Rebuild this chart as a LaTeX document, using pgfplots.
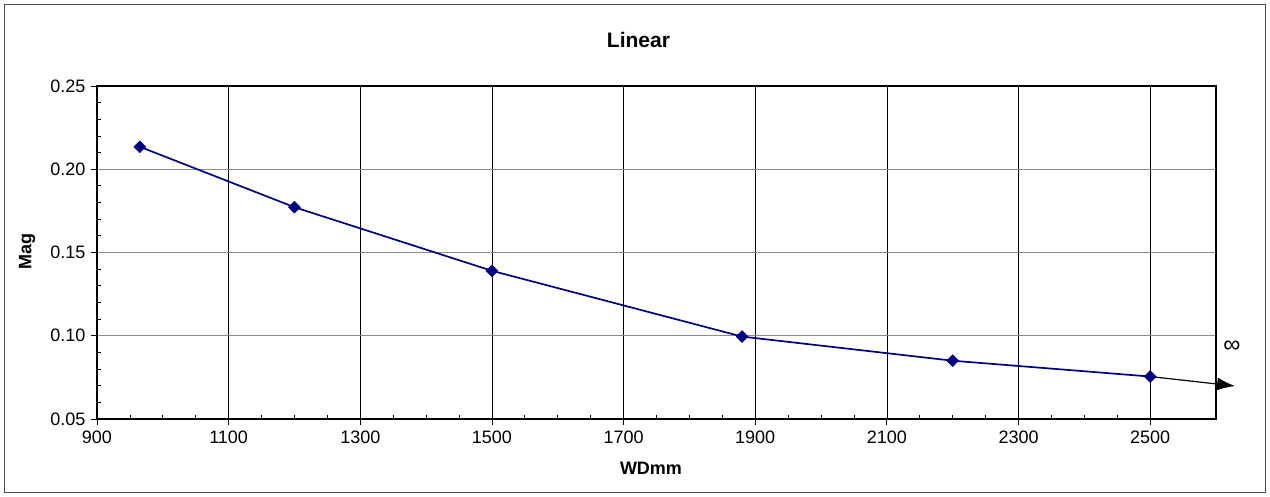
\documentclass[border=0pt]{standalone}
\usepackage{fontspec}
\setmainfont{Liberation Sans}
\usepackage{pgfplots}
\pgfplotsset{compat=1.18}
\usetikzlibrary{arrows.meta}
\definecolor{navy}{RGB}{0,0,128}
\begin{document}
\begin{tikzpicture}[x=1pt,y=1pt]
\useasboundingbox (0,0) rectangle (1270,497);
\draw[black!70, line width=1pt] (4.5,4.5) rectangle (1265.5,492.5);
\begin{axis}[
 at={(97pt,78pt)}, anchor=south west,
 scale only axis, width=1119pt, height=333pt,
 xmin=900, xmax=2600, ymin=0.05, ymax=0.25,
 xtick={900,1100,...,2500},
 ytick={0.05,0.10,0.15,0.20,0.25},
 minor x tick num=3, minor y tick num=4,
 xtick pos=bottom, ytick pos=left,
 tick align=inside,
 major tick length=-6pt, minor tick length=4pt,
 grid=major,
 x grid style={black, line width=0.7pt},
 y grid style={black!45, line width=0.9pt},
 axis line style={line width=1.8pt},
 tick style={black, line width=0.8pt},
 yticklabel style={/pgf/number format/fixed, /pgf/number format/precision=2, /pgf/number format/fixed zerofill, xshift=-8pt},
 xticklabel style={/pgf/number format/set thousands separator={}, yshift=-8pt},
 ticklabel style={font=\fontsize{18}{20}\selectfont},
 /pgf/number format/assume math mode=true,
 clip=false,
]
\addplot[black, line width=1.2pt, -{Latex[length=18pt,width=13pt]}] coordinates {(2500,0.0755) (2629,0.0698)};
\addplot[navy, line width=1.7pt, mark=square*, mark size=4.2pt, mark options={rotate=45, fill=navy, line width=0.5pt}] coordinates {(965,0.2135) (1200,0.1772) (1500,0.139) (1880,0.0995) (2200,0.085) (2500,0.0755)};
\node[font=\fontsize{24}{26}\selectfont] at (axis cs:2624,0.0933) {∞};
\end{axis}
\node[font=\bfseries\fontsize{21}{24}\selectfont] at (638.5,456.5) {Linear};
\node[font=\bfseries\fontsize{18}{20}\selectfont] at (651,28.5) {WDmm};
\node[font=\bfseries\fontsize{18}{20}\selectfont, rotate=90] at (27,245.5) {Mag};
\end{tikzpicture}
\end{document}
